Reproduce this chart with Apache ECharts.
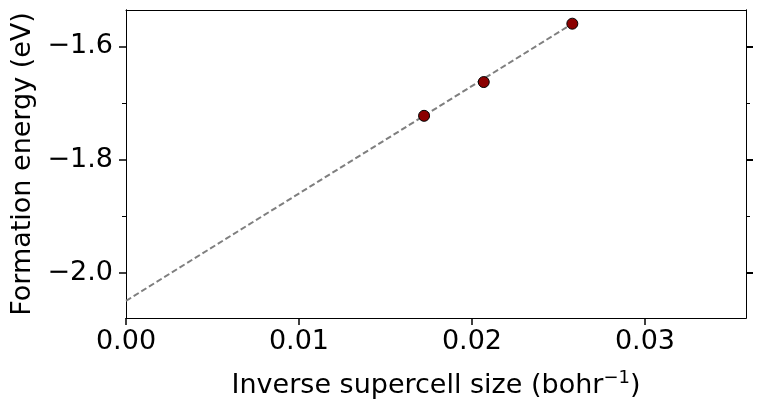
<!DOCTYPE html>
<html>
<head>
<meta charset="utf-8">
<script src="https://cdn.jsdelivr.net/npm/echarts@6/dist/echarts.min.js"></script>
<style>
  html, body { margin: 0; padding: 0; background: #fff; }
  #chart { width: 763px; height: 411px; }
</style>
</head>
<body>
<div id="chart"></div>
<script>
// measured points
const invSize = [0.01723, 0.02068, 0.0258];
const energy = [-1.7227, -1.663, -1.5598];
// linear fit extrapolated to zero
const fitX = [0, 0.0258];
const fitY = [-2.050, -1.5598];
const xTicks = [0, 0.01, 0.02, 0.03];
const yMajor = [-2.0, -1.8, -1.6];
const yMinor = [-1.9, -1.7];

const font = 'DejaVu Sans';
const fs = 27;
const yMin = -2.0802, yMax = -1.5356;
const minus = s => s.replace('-', '\u2212');

const yBase = {
  type: 'value', min: yMin, max: yMax,
  splitLine: { show: false },
  axisLine: { show: true, lineStyle: { color: '#000', width: 1 } }
};

const chart = echarts.init(document.getElementById('chart'));
chart.setOption({
  animation: false,
  grid: { left: 126, right: 17, top: 10, bottom: 93 },
  xAxis: [
    {
      type: 'value', min: 0, max: 0.03584,
      splitLine: { show: false },
      axisLine: { show: true, onZero: false, lineStyle: { color: '#000', width: 1 } },
      axisTick: { show: true, customValues: xTicks, length: 7, lineStyle: { color: '#000', width: 1.5 } },
      axisLabel: {
        customValues: xTicks, margin: 10, color: '#000',
        fontFamily: font, fontSize: fs,
        formatter: v => v.toFixed(2)
      },
      name: '{a|Inverse supercell size (bohr}{s|\u22121}{a|)}',
      nameLocation: 'middle', nameGap: 51,
      nameTextStyle: {
        rich: {
          a: { fontFamily: font, fontSize: fs, color: '#000' },
          s: { fontFamily: font, fontSize: 18, color: '#000', verticalAlign: 'top', padding: [0, 0, 16, 0] }
        }
      }
    },
    {
      type: 'value', position: 'top', min: 0, max: 0.03584,
      splitLine: { show: false },
      axisLine: { show: true, onZero: false, lineStyle: { color: '#000', width: 1 } },
      axisTick: { show: false }, axisLabel: { show: false }
    }
  ],
  yAxis: [
    Object.assign({}, yBase, {
      position: 'left',
      axisTick: { show: true, customValues: yMajor, length: 7, lineStyle: { color: '#000', width: 1.5 } },
      axisLabel: {
        customValues: yMajor, margin: 13, color: '#000',
        fontFamily: font, fontSize: fs,
        formatter: v => minus(v.toFixed(1))
      },
      name: 'Formation energy (eV)',
      nameLocation: 'middle', nameGap: 86,
      nameTextStyle: { fontFamily: font, fontSize: fs, color: '#000' }
    }),
    Object.assign({}, yBase, {
      position: 'left',
      axisTick: { show: true, customValues: yMinor, length: 4, lineStyle: { color: '#000', width: 1 } },
      axisLabel: { show: false }
    }),
    Object.assign({}, yBase, {
      position: 'right',
      axisTick: { show: true, customValues: yMajor, length: 7, lineStyle: { color: '#000', width: 2 } },
      axisLabel: { show: false }
    }),
    Object.assign({}, yBase, {
      position: 'right',
      axisTick: { show: true, customValues: yMinor, length: 4, lineStyle: { color: '#000', width: 1 } },
      axisLabel: { show: false }
    })
  ],
  series: [
    {
      type: 'line',
      data: fitX.map((x, i) => [x, fitY[i]]),
      symbol: 'none',
      lineStyle: { color: '#7f7f7f', width: 2, type: [6, 3] },
      z: 2
    },
    {
      type: 'scatter',
      data: invSize.map((x, i) => [x, energy[i]]),
      symbolSize: 11,
      itemStyle: { color: '#8b0000', borderColor: '#000', borderWidth: 1, opacity: 1 },
      z: 3
    }
  ]
});
</script>
</body>
</html>
